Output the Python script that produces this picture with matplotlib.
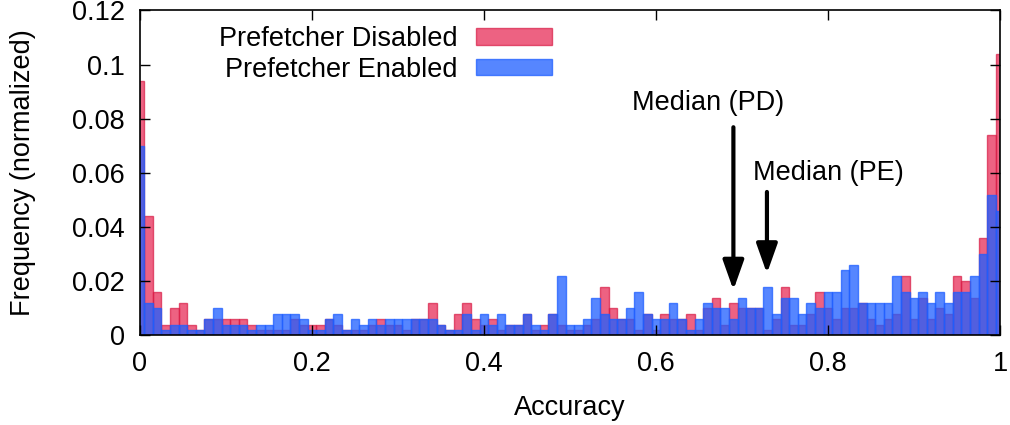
import numpy as np
import matplotlib
matplotlib.use("Agg")
import matplotlib.pyplot as plt
from matplotlib.patches import Patch

plt.rcParams['font.family'] = ['Liberation Sans', 'DejaVu Sans']

# Histogram bins: accuracy 0.00 .. 1.00 in steps of 0.01
accuracy = np.round(np.arange(0, 101) * 0.01, 2)

# Prefetcher Disabled (PD)
freq_disabled = [
    0.094, 0.044, 0.016, 0.004, 0.010, 0.012, 0.004, 0.002, 0.006, 0.006,
    0.006, 0.006, 0.006, 0.004, 0.002, 0.002, 0.002, 0.002, 0.006, 0.004,
    0.004, 0.004, 0.006, 0.004, 0.002, 0.002, 0.002, 0.004, 0.006, 0.004,
    0.004, 0.002, 0.006, 0.006, 0.012, 0.004, 0.002, 0.008, 0.012, 0.006,
    0.004, 0.006, 0.002, 0.004, 0.004, 0.008, 0.002, 0.004, 0.008, 0.004,
    0.002, 0.002, 0.004, 0.006, 0.018, 0.010, 0.006, 0.006, 0.002, 0.008,
    0.002, 0.008, 0.006, 0.006, 0.008, 0.002, 0.010, 0.014, 0.004, 0.012,
    0.010, 0.010, 0.010, 0.002, 0.006, 0.018, 0.004, 0.004, 0.008, 0.016,
    0.010, 0.006, 0.010, 0.010, 0.012, 0.006, 0.004, 0.006, 0.008, 0.022,
    0.006, 0.014, 0.006, 0.010, 0.008, 0.022, 0.020, 0.014, 0.036, 0.074,
    0.104,
]

# Prefetcher Enabled (PE)
freq_enabled = [
    0.070, 0.012, 0.010, 0.002, 0.004, 0.004, 0.002, 0.002, 0.006, 0.010,
    0.004, 0.004, 0.004, 0.002, 0.004, 0.004, 0.008, 0.008, 0.008, 0.006,
    0.002, 0.002, 0.006, 0.008, 0.002, 0.006, 0.004, 0.006, 0.004, 0.006,
    0.006, 0.006, 0.006, 0.006, 0.006, 0.004, 0.002, 0.002, 0.008, 0.002,
    0.008, 0.004, 0.008, 0.004, 0.004, 0.008, 0.004, 0.002, 0.008, 0.022,
    0.004, 0.004, 0.006, 0.014, 0.008, 0.006, 0.006, 0.010, 0.016, 0.008,
    0.006, 0.006, 0.012, 0.006, 0.002, 0.006, 0.012, 0.010, 0.010, 0.006,
    0.014, 0.010, 0.010, 0.018, 0.008, 0.014, 0.014, 0.008, 0.012, 0.010,
    0.016, 0.016, 0.024, 0.026, 0.012, 0.012, 0.012, 0.012, 0.022, 0.016,
    0.014, 0.016, 0.012, 0.016, 0.012, 0.016, 0.016, 0.022, 0.030, 0.052,
    0.046,
]

median_pd = 0.690
median_pe = 0.729

FS = 19.5

fig = plt.figure(figsize=(10.1, 4.25), dpi=100)
ax = fig.add_axes([0.1386, 0.2106, 0.8515, 0.7647])

ax.bar(accuracy, freq_disabled, width=0.01, align='center',
       color='#e6204d', alpha=0.7, edgecolor='#d81b45', linewidth=1.0,
       label='Prefetcher Disabled')
ax.bar(accuracy, freq_enabled, width=0.01, align='center',
       color='#1e5eff', alpha=0.75, edgecolor='#1e5eff', linewidth=1.0,
       label='Prefetcher Enabled')

ax.set_xlim(0, 1)
ax.set_ylim(0, 0.12)
ax.set_xticks([0, 0.2, 0.4, 0.6, 0.8, 1])
ax.set_xticklabels(['0', '0.2', '0.4', '0.6', '0.8', '1'])
ax.set_yticks([0, 0.02, 0.04, 0.06, 0.08, 0.1, 0.12])
ax.set_yticklabels(['0', '0.02', '0.04', '0.06', '0.08', '0.1', '0.12'])
ax.tick_params(direction='in', length=7, width=1, labelsize=FS,
               top=True, right=True, pad=11)
for s in ax.spines.values():
    s.set_linewidth(1.2)

ax.set_xlabel('Accuracy', fontsize=FS, labelpad=13)
ax.set_ylabel('Frequency (normalized)', fontsize=FS, labelpad=26)

# Median arrows
arrow = dict(arrowstyle='-|>,head_length=0.9,head_width=0.32', lw=3,
             color='black', mutation_scale=20, shrinkA=0, shrinkB=0)
ax.annotate('', xy=(median_pd, 0.0168), xytext=(median_pd, 0.0769),
            arrowprops=arrow)
ax.annotate('', xy=(median_pe, 0.0229), xytext=(median_pe, 0.0530),
            arrowprops=arrow)
ax.text(0.660, 0.0858, 'Median (PD)', fontsize=FS, ha='center', va='center')
ax.text(0.801, 0.060, 'Median (PE)', fontsize=FS, ha='center', va='center')

handles = [Patch(facecolor='#e6204d', alpha=0.7, edgecolor='#d81b45'),
           Patch(facecolor='#1e5eff', alpha=0.75, edgecolor='#1e5eff')]
ax.legend(handles, ['Prefetcher Disabled', 'Prefetcher Enabled'],
          loc='upper right', bbox_to_anchor=(0.492, 0.985), frameon=False,
          markerfirst=False, fontsize=FS, handlelength=2.8, handleheight=0.55,
          handletextpad=0.7, labelspacing=0.16, borderaxespad=0)

fig.savefig('out.png', dpi=100)
